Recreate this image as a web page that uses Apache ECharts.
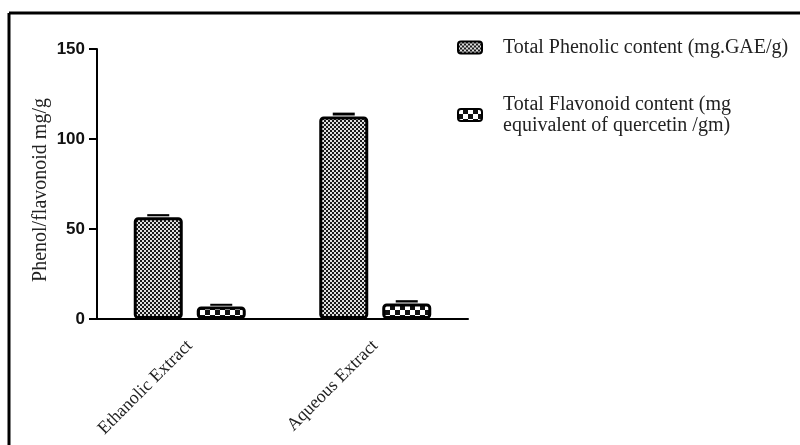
<!DOCTYPE html>
<html>
<head>
<meta charset="utf-8">
<script src="https://cdn.jsdelivr.net/npm/echarts@6/dist/echarts.min.js"></script>
<style>html,body{margin:0;padding:0;background:#fff;}#c{width:800px;height:445px;}</style>
</head>
<body>
<div id="c"></div>
<script>
const categories = ['Ethanolic Extract', 'Aqueous Extract'];
const phenolic = [56.5, 112.5];
const phenolicErr = [1.2, 1.6];
const flavonoid = [7.0, 8.6];
const flavonoidErr = [0.9, 1.3];
const yTicks = [0, 50, 100, 150];
const seriesNames = ['Total Phenolic content (mg.GAE/g)', 'Total Flavonoid content (mg\nequivalent of quercetin /gm)'];

function makePattern(kind) {
  const c = document.createElement('canvas');
  const ctx = c.getContext('2d');
  if (kind === 'fine') {
    c.width = 4; c.height = 4;
    ctx.fillStyle = '#e0e0e0'; ctx.fillRect(0, 0, 4, 4);
    ctx.fillStyle = '#1a1a1a';
    ctx.fillRect(0, 0, 2, 2); ctx.fillRect(2, 2, 2, 2);
  } else {
    c.width = 10; c.height = 10;
    ctx.fillStyle = '#111'; ctx.fillRect(0, 0, 10, 10);
    ctx.fillStyle = '#fff';
    ctx.fillRect(0, 0, 5, 5); ctx.fillRect(5, 5, 5, 5);
  }
  return { image: c, repeat: 'repeat' };
}
const patA = makePattern('fine');
const patB = makePattern('coarse');

const BAR_W = 49, BAR_GAP = 14;
const offA = -(BAR_W + BAR_GAP) / 2, offB = (BAR_W + BAR_GAP) / 2;

function errSeries(vals, errs, off, name) {
  return {
    type: 'custom', name: name + '_err', silent: true, z: 5,
    data: vals.map((v, i) => [i, v, v + errs[i]]),
    renderItem: function (params, api) {
      const p0 = api.coord([api.value(0), api.value(1)]);
      const p1 = api.coord([api.value(0), api.value(2)]);
      const x = p0[0] + off;
      return {
        type: 'group', children: [
          { type: 'rect', shape: { x: x - 11, y: p1[1] - 1, width: 22, height: Math.max(2, p0[1] - p1[1]) }, style: { fill: '#000' } }
        ]
      };
    }
  };
}

const chart = echarts.init(document.getElementById('c'), null, { renderer: 'canvas' });
chart.setOption({
  animation: false,
  backgroundColor: '#fff',
  grid: { left: 97, right: 332, top: 49, bottom: 126 },
  graphic: [
    { type: 'line', shape: { x1: 9, y1: 13, x2: 800, y2: 13 }, style: { stroke: '#000', lineWidth: 3 } },
    { type: 'line', shape: { x1: 9, y1: 13, x2: 9, y2: 445 }, style: { stroke: '#000', lineWidth: 3 } }
  ],
  legend: {
    orient: 'vertical', left: 452, top: 32, itemGap: 36,
    itemWidth: 24, itemHeight: 12, icon: 'roundRect',
    data: seriesNames,
    textStyle: { fontFamily: 'Liberation Serif', fontSize: 20, color: '#222', lineHeight: 21, padding: [0, 0, 0, 16] }
  },
  xAxis: {
    type: 'category', data: categories,
    axisLine: { lineStyle: { color: '#000', width: 2 } },
    axisTick: { alignWithLabel: true, length: 8, lineStyle: { color: '#000', width: 2 } },
    axisLabel: { rotate: 45, margin: 24, fontFamily: 'Liberation Serif', fontSize: 18, color: '#222' }
  },
  yAxis: {
    type: 'value', min: 0, max: 150, interval: 50,
    name: 'Phenol/flavonoid mg/g', nameLocation: 'middle', nameGap: 46, nameRotate: 90,
    nameTextStyle: { fontFamily: 'Liberation Serif', fontSize: 20, color: '#222', padding: [0, 12, 0, 0] },
    splitLine: { show: false },
    axisLine: { show: true, lineStyle: { color: '#000', width: 2 } },
    axisTick: { show: true, length: 8, lineStyle: { color: '#000', width: 2 } },
    axisLabel: { margin: 12, fontFamily: 'Liberation Sans', fontWeight: 'bold', fontSize: 17, color: '#111',
      formatter: v => yTicks.includes(v) ? String(v) : '' }
  },
  series: [
    { type: 'bar', name: seriesNames[0], data: phenolic, barWidth: BAR_W, barGap: (BAR_GAP / BAR_W * 100) + '%',
      itemStyle: { color: patA, borderColor: '#000', borderWidth: 3, borderRadius: 3 } },
    { type: 'bar', name: seriesNames[1], data: flavonoid, barWidth: BAR_W,
      itemStyle: { color: patB, borderColor: '#000', borderWidth: 3, borderRadius: 3 } },
    errSeries(phenolic, phenolicErr, offA, 'a'),
    errSeries(flavonoid, flavonoidErr, offB, 'b')
  ]
});
</script>
</body>
</html>
